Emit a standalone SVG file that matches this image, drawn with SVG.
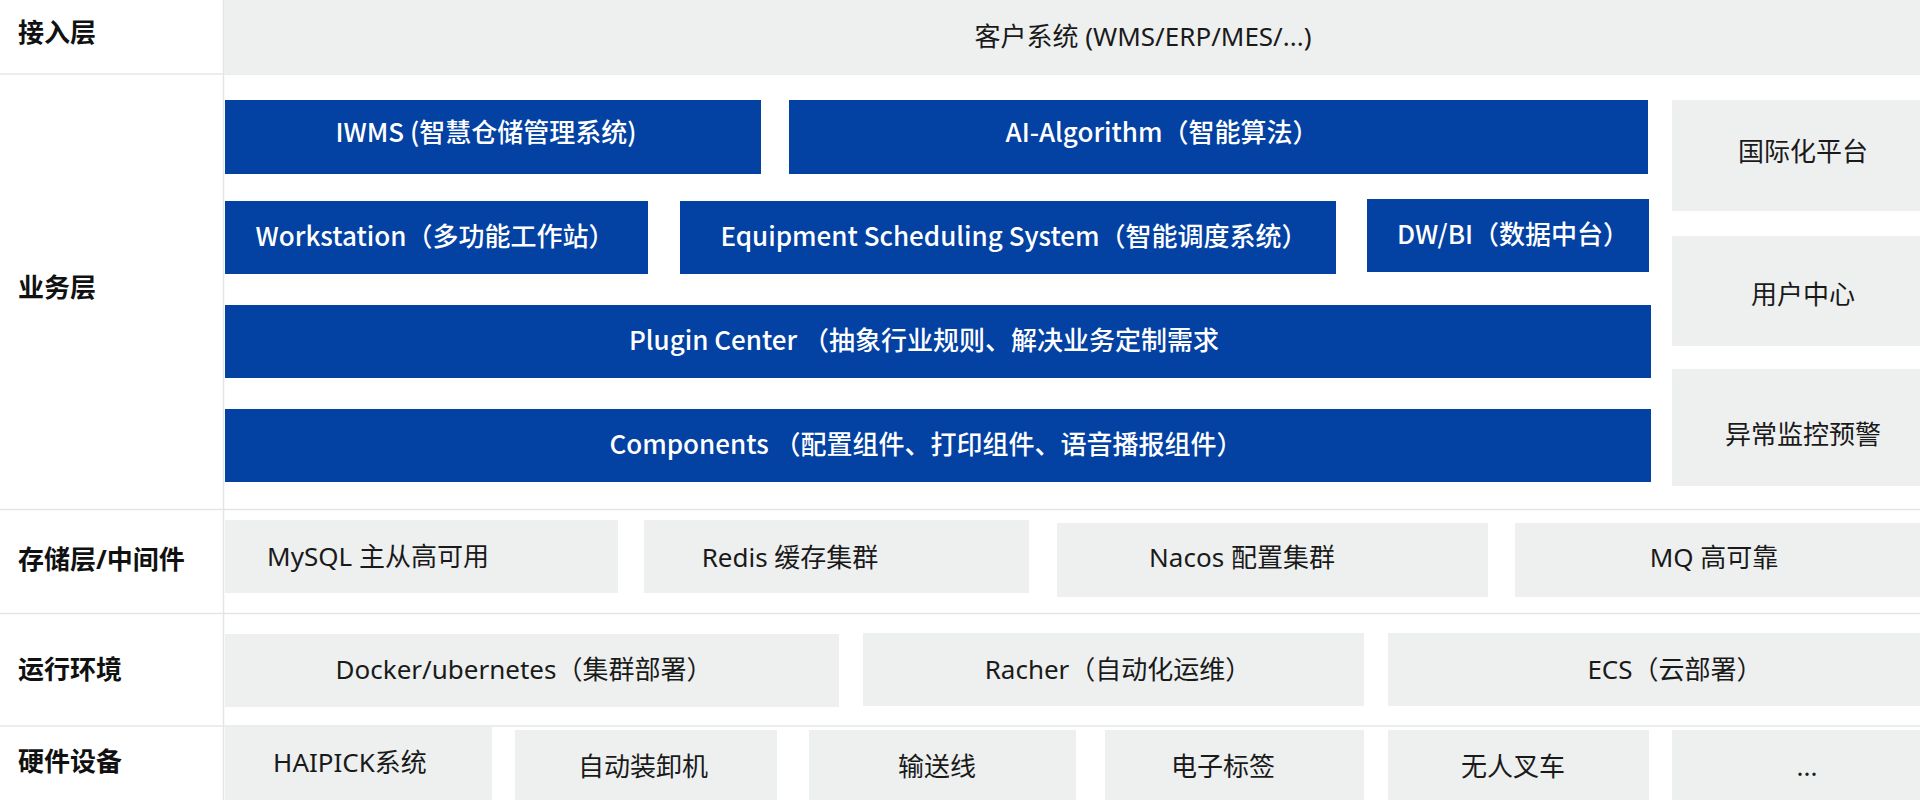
<svg xmlns="http://www.w3.org/2000/svg" width="1920" height="800" viewBox="0 0 1920 800">
<style>
text{font-family:"Noto Sans","Noto Sans CJK SC",sans-serif;font-size:26px;text-anchor:middle}
.lbl{font-weight:700;fill:#111;text-anchor:start}
.blue{fill:#0341a3}
.gray{fill:#eef0f0}
.wt{fill:#fff;font-family:"Noto Sans CJK SC","Noto Sans",sans-serif;font-weight:500}
.bt{fill:#1a1a1a}
.div{stroke:#e4e6e6;stroke-width:1.5}
</style>
<rect width="1920" height="800" fill="#fff"/>
<g id="grid">
<line class="div" x1="0" y1="74" x2="1920" y2="74"/>
<line class="div" x1="0" y1="509.5" x2="1920" y2="509.5"/>
<line class="div" x1="0" y1="613.5" x2="1920" y2="613.5"/>
<line class="div" x1="0" y1="726" x2="1920" y2="726"/>
<line class="div" x1="223.5" y1="0" x2="223.5" y2="800"/>
</g>
<g id="labels">
<text class="lbl" x="18" y="42">接入层</text>
<text class="lbl" x="18" y="297">业务层</text>
<text class="lbl" x="18" y="569">存储层/中间件</text>
<text class="lbl" x="18" y="679">运行环境</text>
<text class="lbl" x="18" y="771">硬件设备</text>
</g>
<g id="access">
<rect class="gray" x="224" y="0" width="1696" height="74"/>
<text class="bt" x="1143" y="46">客户系统 (WMS/ERP/MES/...)</text>
</g>
<g id="iwms"><rect class="blue" x="225" y="100" width="536" height="74"/><text class="wt" x="486" y="142">IWMS (智慧仓储管理系统)</text></g>
<g id="ai"><rect class="blue" x="789" y="100" width="859" height="74"/><text class="wt" x="1162" y="142">AI-Algorithm（智能算法）</text></g>
<g id="intl"><rect class="gray" x="1672" y="100" width="248" height="111"/><text class="bt" x="1803" y="161">国际化平台</text></g>
<g id="workstation"><rect class="blue" x="225" y="201" width="423" height="73"/><text class="wt" x="435" y="246">Workstation（多功能工作站）</text></g>
<g id="ess"><rect class="blue" x="680" y="201" width="656" height="73"/><text class="wt" x="1014" y="246">Equipment Scheduling System（智能调度系统）</text></g>
<g id="dwbi"><rect class="blue" x="1367" y="199" width="282" height="73"/><text class="wt" x="1513" y="244">DW/BI（数据中台）</text></g>
<g id="user"><rect class="gray" x="1672" y="236" width="248" height="110"/><text class="bt" x="1803" y="304">用户中心</text></g>
<g id="plugin"><rect class="blue" x="225" y="305" width="1426" height="73"/><text class="wt" x="924" y="350">Plugin Center （抽象行业规则、解决业务定制需求</text></g>
<g id="components"><rect class="blue" x="225" y="409" width="1426" height="73"/><text class="wt" x="926" y="454">Components （配置组件、打印组件、语音播报组件）</text></g>
<g id="monitor"><rect class="gray" x="1672" y="369" width="248" height="117"/><text class="bt" x="1803" y="444">异常监控预警</text></g>
<g id="mysql"><rect class="gray" x="225" y="520" width="393" height="73"/><text class="bt" x="378" y="566">MySQL 主从高可用</text></g>
<g id="redis"><rect class="gray" x="644" y="520" width="385" height="73"/><text class="bt" x="790" y="567">Redis 缓存集群</text></g>
<g id="nacos"><rect class="gray" x="1057" y="523" width="431" height="74"/><text class="bt" x="1242" y="567">Nacos 配置集群</text></g>
<g id="mq"><rect class="gray" x="1515" y="523" width="405" height="74"/><text class="bt" x="1714" y="567">MQ 高可靠</text></g>
<g id="docker"><rect class="gray" x="225" y="634" width="614" height="73"/><text class="bt" x="524" y="679">Docker/ubernetes（集群部署）</text></g>
<g id="racher"><rect class="gray" x="863" y="633" width="501" height="73"/><text class="bt" x="1118" y="679">Racher（自动化运维）</text></g>
<g id="ecs"><rect class="gray" x="1388" y="633" width="532" height="73"/><text class="bt" x="1675" y="679">ECS（云部署）</text></g>
<g id="haipick"><rect class="gray" x="225" y="727" width="267" height="73"/><text class="bt" x="350" y="772">HAIPICK系统</text></g>
<g id="loader"><rect class="gray" x="515" y="730" width="262" height="70"/><text class="bt" x="643" y="776">自动装卸机</text></g>
<g id="conveyor"><rect class="gray" x="809" y="730" width="267" height="70"/><text class="bt" x="937" y="776">输送线</text></g>
<g id="label-tag"><rect class="gray" x="1105" y="730" width="259" height="70"/><text class="bt" x="1223" y="776">电子标签</text></g>
<g id="forklift"><rect class="gray" x="1388" y="730" width="261" height="70"/><text class="bt" x="1513" y="776">无人叉车</text></g>
<g id="more"><rect class="gray" x="1672" y="730" width="248" height="70"/><text class="bt" x="1807" y="776">...</text></g>
</svg>
